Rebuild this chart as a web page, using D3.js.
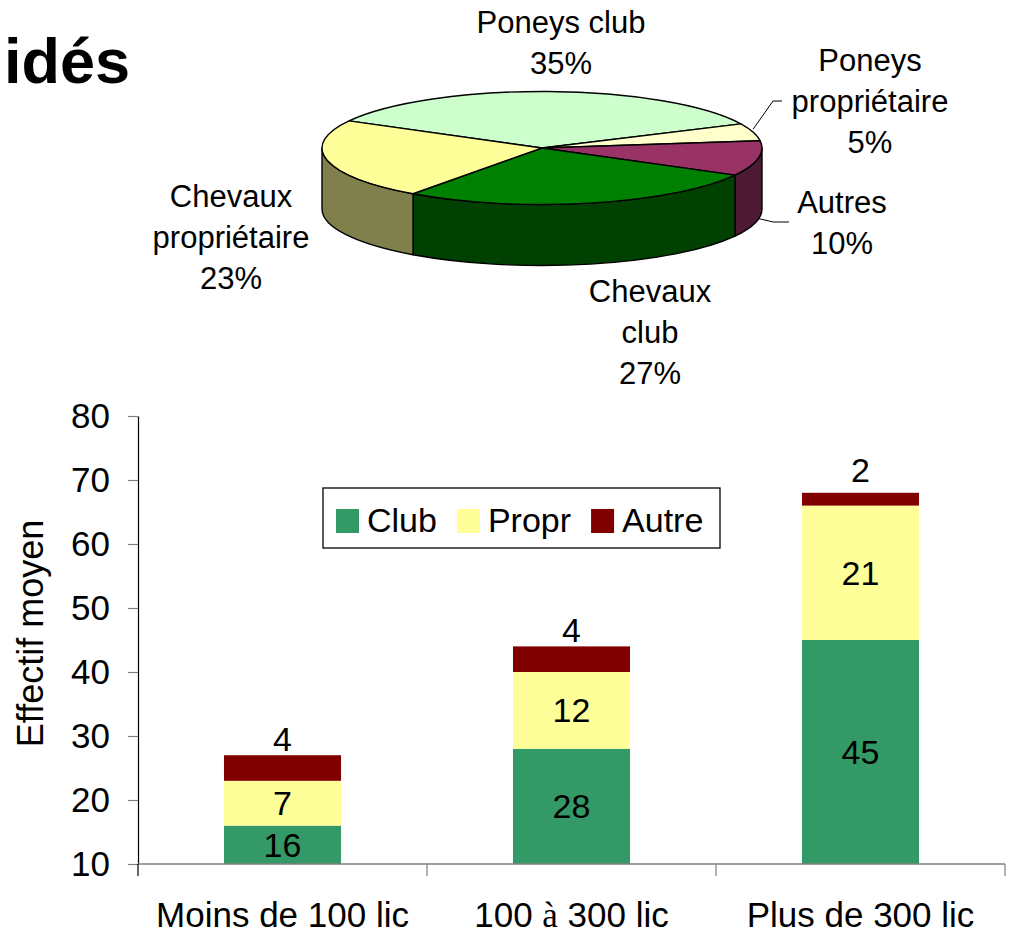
<!DOCTYPE html>
<html>
<head>
<meta charset="utf-8">
<script src="https://cdn.jsdelivr.net/npm/d3@7"></script>
<style>
  html, body { margin: 0; padding: 0; background: #fff; }
  svg { display: block; font-family: "Liberation Sans", Arial, sans-serif; }
</style>
</head>
<body>
<svg id="chart" width="1013" height="935"></svg>
<script>
// ---------- data ----------
const titleText = "idés";

const pieLabels = [["Poneys club"], ["Poneys", "propriétaire"], ["Autres"], ["Chevaux", "club"], ["Chevaux", "propriétaire"]];
const pieValues = [35, 5, 10, 27, 23];
const pieTopColors = ["#CCFFCC", "#FFFFCC", "#993366", "#008000", "#FFFF99"];
const pieSideColors = ["#66806A", "#808066", "#4D1A33", "#004000", "#80804D"];

const categories = ["Moins de 100 lic", "100 à 300 lic", "Plus de 300 lic"];
const seriesNames = ["Club", "Propr", "Autre"];
const clubValues = [16, 28, 45];
const proprValues = [7, 12, 21];
const autreValues = [4, 4, 2];
const seriesColors = ["#339966", "#FFFF99", "#800000"];
const yTicks = [10, 20, 30, 40, 50, 60, 70, 80];
const yTitle = "Effectif moyen";

// ---------- setup ----------
const svg = d3.select("#chart");
const FONT = "\"Liberation Sans\", Arial, sans-serif";

// title fragment
svg.append("text")
  .attr("x", 4).attr("y", 83)
  .attr("font-size", 63).attr("font-weight", "bold")
  .attr("fill", "#000")
  .text(titleText);

// ---------- 3D pie ----------
const pc = { cx: 542, cy: 148, rx: 220, ry: 56.5, depth: 61 };
const startA = (208.7 + 90) * Math.PI / 180;
const pie = d3.pie().sort(null).value(d => d)
  .startAngle(startA).endAngle(startA + 2 * Math.PI);
const arcs = pie(pieValues);

const P = (a, dz = 0) => [pc.cx + pc.rx * Math.sin(a), pc.cy - pc.ry * Math.cos(a) + dz];

const gPie = svg.append("g");

// sides (front half: d3 angle in [pi/2, 3pi/2] mod 2pi)
arcs.forEach((d, i) => {
  for (let k = -1; k <= 2; k++) {
    const lo = Math.PI / 2 + 2 * Math.PI * k, hi = 3 * Math.PI / 2 + 2 * Math.PI * k;
    const s = Math.max(d.startAngle, lo), e = Math.min(d.endAngle, hi);
    if (e - s > 1e-6) {
      const p0 = P(s), p1 = P(e), p2 = P(e, pc.depth), p3 = P(s, pc.depth);
      const large = (e - s) > Math.PI ? 1 : 0;
      const path = `M${p0[0]},${p0[1]} A${pc.rx},${pc.ry} 0 ${large} 1 ${p1[0]},${p1[1]} L${p2[0]},${p2[1]} A${pc.rx},${pc.ry} 0 ${large} 0 ${p3[0]},${p3[1]} Z`;
      gPie.append("path").attr("d", path)
        .attr("fill", pieSideColors[i]).attr("stroke", "#000").attr("stroke-width", 1.4)
        .attr("stroke-linejoin", "round");
    }
  }
});
// tops
arcs.forEach((d, i) => {
  const p0 = P(d.startAngle), p1 = P(d.endAngle);
  const large = (d.endAngle - d.startAngle) > Math.PI ? 1 : 0;
  const path = `M${pc.cx},${pc.cy} L${p0[0]},${p0[1]} A${pc.rx},${pc.ry} 0 ${large} 1 ${p1[0]},${p1[1]} Z`;
  gPie.append("path").attr("d", path)
    .attr("fill", pieTopColors[i]).attr("stroke", "#000").attr("stroke-width", 1.4)
    .attr("stroke-linejoin", "round");
});

// pie labels (layout: center x, first baseline)
const pieLabelPos = [[561, 33], [870, 71], [842, 213], [650, 302], [231, 207]];
const LH = 41;
arcs.forEach((d, i) => {
  const lines = pieLabels[i].concat([d.data + "%"]);
  const t = svg.append("text")
    .attr("x", pieLabelPos[i][0]).attr("y", pieLabelPos[i][1])
    .attr("text-anchor", "middle").attr("font-size", 31).attr("fill", "#000");
  lines.forEach((ln, j) => {
    t.append("tspan").attr("x", pieLabelPos[i][0]).attr("dy", j === 0 ? 0 : LH).text(ln);
  });
});

// leader lines for small slices
function leader(i, dz, pts) {
  const d = arcs[i];
  const m = (d.startAngle + d.endAngle) / 2;
  const s = P(m, dz);
  const all = [s].concat(pts);
  svg.append("path").attr("d", d3.line()(all))
    .attr("fill", "none").attr("stroke", "#000").attr("stroke-width", 1);
}
leader(1, -3, [[773, 101], [782, 101]]);
leader(2, pc.depth - 1, [[773, 222], [789, 222]]);

// ---------- stacked bar chart ----------
const margin = { left: 138, right: 1005, top: 416, bottom: 864 };
const y = d3.scaleLinear().domain([10, 80]).range([margin.bottom, margin.top]);
const x = d3.scaleBand().domain(categories).range([margin.left, margin.right])
  .paddingInner(0.595).paddingOuter(0.2975);

const table = categories.map((c, i) => ({ cat: c, Club: clubValues[i], Propr: proprValues[i], Autre: autreValues[i] }));
const stack = d3.stack().keys(seriesNames)(table);

const gBars = svg.append("g");
stack.forEach((layer, si) => {
  gBars.selectAll(null).data(layer).enter().append("rect")
    .attr("x", d => x(d.data.cat))
    .attr("width", x.bandwidth())
    .attr("y", d => y(d[1]))
    .attr("height", d => y(Math.max(d[0], 10)) - y(d[1]))
    .attr("fill", seriesColors[si]);
});

// value labels
stack.forEach((layer, si) => {
  gBars.selectAll(null).data(layer).enter().append("text")
    .attr("x", d => x(d.data.cat) + x.bandwidth() / 2)
    .attr("y", d => {
      const c = (y(Math.max(d[0], 10)) + y(d[1])) / 2;
      return si === 2 ? c - 17 : c + 12;
    })
    .attr("text-anchor", "middle").attr("font-size", 34).attr("fill", "#000")
    .text(d => d[1] - d[0]);
});

// y axis
const yAxis = svg.append("g").attr("transform", `translate(${margin.left},0)`)
  .call(d3.axisLeft(y).tickValues(yTicks).tickSize(10).tickPadding(18).tickSizeOuter(0));
yAxis.select(".domain").attr("stroke", "#000").attr("stroke-width", 1.2);
yAxis.selectAll(".tick line").attr("stroke", "#808080").attr("stroke-width", 1.2);
yAxis.selectAll(".tick text").attr("font-size", 35).attr("fill", "#000")
  .attr("font-family", FONT);

// x axis
const xAxis = svg.append("g").attr("transform", `translate(0,${margin.bottom})`)
  .call(d3.axisBottom(x).tickSize(0).tickPadding(38));
xAxis.select(".domain").remove();
xAxis.selectAll(".tick text").attr("font-size", 35).attr("fill", "#000")
  .attr("font-family", FONT)
  .each(function (d) {
    if (d.indexOf("à") >= 0) {
      const parts = d.split("à");
      const t = d3.select(this).text(null);
      t.append("tspan").text(parts[0]);
      t.append("tspan").attr("font-family", "\"Liberation Serif\", serif").text("à");
      t.append("tspan").text(parts[1]);
    }
  });
svg.append("line")
  .attr("x1", margin.left).attr("x2", margin.right)
  .attr("y1", margin.bottom).attr("y2", margin.bottom)
  .attr("stroke", "#808080").attr("stroke-width", 1.5);
const bounds = d3.range(categories.length + 1).map(i => margin.left + i * x.step());
svg.selectAll(null).data(bounds).enter().append("line")
  .attr("x1", d => d).attr("x2", d => d)
  .attr("y1", margin.bottom).attr("y2", margin.bottom + 12)
  .attr("stroke", d => d === margin.left ? "#000" : "#808080").attr("stroke-width", 1.2);

// y title
svg.append("text")
  .attr("transform", `translate(43,${(515 + 752) / 2}) rotate(-90)`)
  .attr("text-anchor", "middle").attr("font-size", 36).attr("fill", "#000")
  .text(yTitle);

// legend
const lg = svg.append("g").attr("transform", "translate(323,488)");
lg.append("rect").attr("width", 397).attr("height", 60)
  .attr("fill", "#fff").attr("stroke", "#000").attr("stroke-width", 1.3);
let lx = 13;
seriesNames.forEach((n, i) => {
  lg.append("rect").attr("x", lx).attr("y", 21).attr("width", 23).attr("height", 24)
    .attr("fill", seriesColors[i]);
  const t = lg.append("text").attr("x", lx + 31).attr("y", 44)
    .attr("font-size", 34).attr("fill", "#000").text(n);
  lx += 31 + t.node().getComputedTextLength() + 20;
});
</script>
</body>
</html>
